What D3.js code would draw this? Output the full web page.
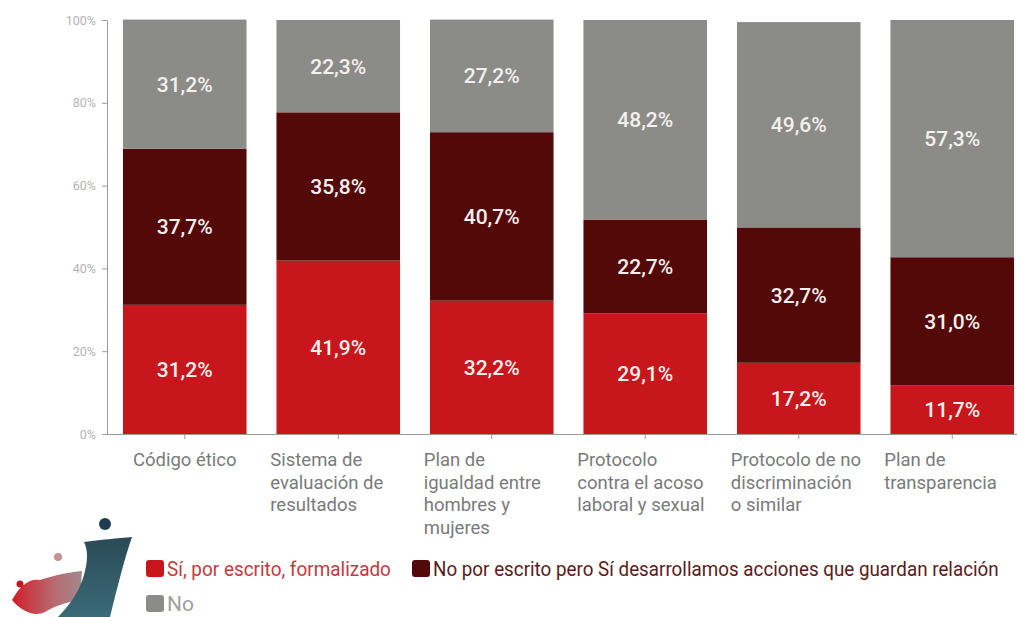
<!DOCTYPE html>
<html><head><meta charset="utf-8">
<script src="https://cdn.jsdelivr.net/npm/d3@7"></script>
<style>body{margin:0;background:#fff;}svg{display:block;font-family:Roboto,"Noto Sans",sans-serif;}</style>
</head><body>
<svg id="c" width="1017" height="617"></svg>
<script>
const categories = ["Código ético","Sistema de evaluación de resultados","Plan de igualdad entre hombres y mujeres","Protocolo contra el acoso laboral y sexual","Protocolo de no discriminación o similar","Plan de transparencia"];
const categoryLines = [["Código ético"],["Sistema de","evaluación de","resultados"],["Plan de","igualdad entre","hombres y","mujeres"],["Protocolo","contra el acoso","laboral y sexual"],["Protocolo de no","discriminación","o similar"],["Plan de","transparencia"]];
const seriesNames = ["Sí, por escrito, formalizado","No por escrito pero Sí desarrollamos acciones que guardan relación","No"];
const siValues = [31.2,41.9,32.2,29.1,17.2,11.7];
const noEscritoValues = [37.7,35.8,40.7,22.7,32.7,31.0];
const noValues = [31.2,22.3,27.2,48.2,49.6,57.3];
const yTicks = [0,20,40,60,80,100];
const colors = ["#c8161d","#540909","#8b8c88"];
const legendTextColors = ["#c43a40","#5a1c1c","#a0a0a0"];

const svg = d3.select("#c");
const x = d3.scaleBand().domain(categories).range([107,1030]).paddingInner(0.195).paddingOuter(0.104);
const y = d3.scaleLinear().domain([0,100]).range([434,20]);

const rows = categories.map((c,i)=>({cat:c, s0:siValues[i], s1:noEscritoValues[i], s2:noValues[i]}));
const stack = d3.stack().keys(["s0","s1","s2"]);
const layers = stack(rows);

const fmt = v => d3.format(".1f")(v).replace(".", ",") + "%";

layers.forEach((layer,li)=>{
  const g = svg.append("g");
  g.selectAll("rect").data(layer).enter().append("rect")
    .attr("x", d=>x(d.data.cat)).attr("width", x.bandwidth())
    .attr("y", d=>y(d[1])).attr("height", d=>y(d[0])-y(d[1]))
    .attr("fill", colors[li]);
  g.selectAll("text").data(layer).enter().append("text")
    .attr("x", d=>x(d.data.cat)+x.bandwidth()/2)
    .attr("y", d=>(y(d[0])+y(d[1]))/2+7.5)
    .attr("text-anchor","middle").attr("fill","#f4f0ee")
    .attr("font-size",21).attr("font-weight",500)
    .text(d=>fmt(d[1]-d[0]));
});

// y axis
const yAxis = svg.append("g").attr("transform","translate(107,0)")
  .call(d3.axisLeft(y).tickValues(yTicks).tickFormat(d=>d+"%").tickSize(5).tickSizeOuter(0));
yAxis.select(".domain").attr("stroke","#9a9a9a");
yAxis.selectAll(".tick line").attr("stroke","#9a9a9a");
yAxis.selectAll(".tick text").attr("fill","#b5b5b5").attr("font-size",12.5).attr("x",-11).attr("font-family","Roboto,sans-serif");

// x axis
const xAxis = svg.append("g").attr("transform","translate(0,434)")
  .call(d3.axisBottom(x).tickSize(5).tickSizeOuter(0).tickFormat(""));
xAxis.select(".domain").attr("stroke","#9a9a9a").attr("d","M107,0.5H1017");
xAxis.selectAll(".tick line").attr("stroke","#9a9a9a");

// category labels
const catG = svg.append("g");
categories.forEach((c,i)=>{
  const lines = categoryLines[i];
  const cx = x(c)+x.bandwidth()/2;
  const t = catG.append("text").attr("fill","#7a7a7a").attr("font-size",18.5);
  if(lines.length===1){
    t.attr("text-anchor","middle").attr("x",cx).attr("y",466).text(lines[0]);
  } else {
    lines.forEach((l,j)=>{
      t.append("tspan").attr("x",cx-68).attr("y",466+j*22.5).text(l);
    });
  }
});

// legend
const legendPos = [[146,560],[412,560],[146,595]];
const legendWidths = [224,566,27];
seriesNames.forEach((n,i)=>{
  const [lx,ly] = legendPos[i];
  svg.append("rect").attr("x",lx).attr("y",ly).attr("width",18).attr("height",17).attr("rx",3).attr("fill",colors[i]);
  const tg = svg.append("g");
  const t = tg.append("text").attr("x",0).attr("y",0).attr("font-size",20).attr("fill",legendTextColors[i]).text(n);
  const natural = t.node().getComputedTextLength() || legendWidths[i];
  const sx = legendWidths[i]/natural;
  tg.attr("transform",`translate(${lx+21},${ly+16}) scale(${sx},1)`);
});

// logo (decorative)
const defs = svg.append("defs");
const g1 = defs.append("linearGradient").attr("id","tg").attr("x1","0").attr("y1","0").attr("x2","0").attr("y2","1");
g1.append("stop").attr("offset","0").attr("stop-color","#2b4a57");
g1.append("stop").attr("offset","1").attr("stop-color","#3a6a78");
const g2 = defs.append("linearGradient").attr("id","rg").attr("x1","0").attr("y1","0").attr("x2","1").attr("y2","0");
g2.append("stop").attr("offset","0").attr("stop-color","#d01f2a");
g2.append("stop").attr("offset","0.6").attr("stop-color","#b86a70");
g2.append("stop").attr("offset","1").attr("stop-color","#a08a90");
const logo = svg.append("g");
logo.append("path").attr("d","M12,600 C20,585 30,578 40,580 C55,575 70,572 82,571 L80,600 C70,602 58,604 45,612 C35,617 22,612 12,600 Z").attr("fill","url(#rg)");
logo.append("path").attr("d","M84,542 C100,540 118,538 132,537 C124,560 118,585 110,617 L58,617 C70,605 80,590 84,575 C88,560 88,550 84,542 Z").attr("fill","url(#tg)");
logo.append("circle").attr("cx",105).attr("cy",524).attr("r",6).attr("fill","#1f3d52");
logo.append("circle").attr("cx",58).attr("cy",557).attr("r",4).attr("fill","#c89090");
logo.append("circle").attr("cx",20).attr("cy",584).attr("r",3.5).attr("fill","#c8161d");
</script>
</body></html>
